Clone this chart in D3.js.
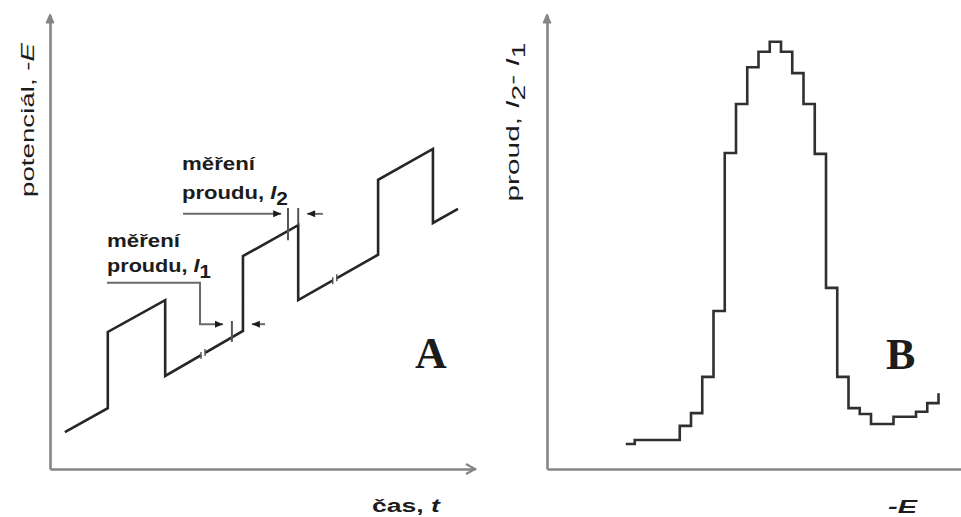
<!DOCTYPE html>
<html>
<head>
<meta charset="utf-8">
<script src="https://cdn.jsdelivr.net/npm/d3@7"></script>
<style>
body{margin:0;background:#fff;}
svg{display:block;background:#fff;}
text{font-family:"Liberation Sans",Arial,sans-serif;fill:#1c1c1c;}
</style>
</head>
<body>
<svg id="chart" width="961" height="517"></svg>
<script>
// ---- panel A : potential waveform vs time
var timeA = [3.5, 13.6, 13.6, 27.1, 27.1, 45.4, 45.4, 58.4, 58.4, 77.2, 77.2, 90.1, 90.1, 96.0];
var potA  = [8.1, 13.4, 30.2, 37.2, 20.5, 30.4, 46.9, 53.7, 37.2, 47.2, 63.7, 70.5, 54.2, 57.3];

// current sampling marks (time, low, high)
var markT  = [42.8, 56.0, 58.4];
var markLo = [28.0, 50.4, 53.7];
var markHi = [32.6, 57.5, 57.5];
// little break marks on the base line
var breakT = [36.0, 67.0];

// ---- panel B : differential current vs potential (staircase)
var potB = [0.2, 1, 2, 3, 4, 5, 6, 7, 8, 9, 10, 11, 12, 13, 14, 15, 16, 17, 18, 19, 20, 21, 22, 23, 24, 25, 26, 27, 28];
var curB = [5.5, 6.4, 6.4, 6.4, 6.4, 9.5, 12.3, 20.3, 34.8, 69.6, 80.4, 88.5, 91.9, 94.1, 91.9, 87.2, 80.4, 69.4,
            39.9, 20.3, 13.4, 12.1, 9.9, 9.9, 11.5, 11.5, 12.6, 14.5, 16.7];

var svg = d3.select('#chart');
var axisColor = '#858585', lineColor = '#262626';

var xA = d3.scaleLinear().domain([0, 100]).range([50, 475]);
var yA = d3.scaleLinear().domain([0, 100]).range([469, 15]);
var xB = d3.scaleLinear().domain([-6.8, 30]).range([547, 961]);
var yB = d3.scaleLinear().domain([0, 100]).range([469, 15]);

function drawAxes(x, y, arrowRight){
	var gy = svg.append('g').attr('transform', 'translate(' + x.range()[0] + ',0)')
		.call(d3.axisLeft(y).tickValues([]).tickSizeOuter(0));
	var gx = svg.append('g').attr('transform', 'translate(0,' + y.range()[0] + ')')
		.call(d3.axisBottom(x).tickValues([]).tickSizeOuter(0));
	svg.selectAll('.domain').attr('stroke', axisColor).attr('stroke-width', 2.6);
	var x0 = x.range()[0], yt = y.range()[1];
	svg.append('path')
		.attr('d', 'M' + (x0 - 4) + ',' + (yt + 8) + 'L' + x0 + ',' + (yt - 1) + 'L' + (x0 + 4) + ',' + (yt + 8) + 'Z')
		.attr('fill', axisColor).attr('stroke', axisColor).attr('stroke-width', 1);
	if(arrowRight){
		var xr = x.range()[1], yb = y.range()[0];
		svg.append('path')
			.attr('d', 'M' + (xr - 9) + ',' + (yb - 5) + 'L' + xr + ',' + yb + 'L' + (xr - 9) + ',' + (yb + 5))
			.attr('fill', 'none').attr('stroke', axisColor).attr('stroke-width', 2.2);
	}
}
drawAxes(xA, yA, true);
drawAxes(xB, yB, false);

// ---- waveform A
var dataA = timeA.map(function(t, i){ return {t: t, e: potA[i]}; });
var lineA = d3.line().x(function(d){ return xA(d.t); }).y(function(d){ return yA(d.e); });
svg.append('path').datum(dataA)
	.attr('d', lineA)
	.attr('fill', 'none').attr('stroke', lineColor).attr('stroke-width', 2.6)
	.attr('stroke-linejoin', 'miter');

function potAt(t){
	for(var i = 0; i < timeA.length - 1; i++){
		if(timeA[i] < timeA[i + 1] && t >= timeA[i] && t <= timeA[i + 1]){
			return potA[i] + (potA[i + 1] - potA[i]) * (t - timeA[i]) / (timeA[i + 1] - timeA[i]);
		}
	}
	return 0;
}
breakT.forEach(function(t){
	var px = xA(t), py = yA(potAt(t));
	svg.append('line').attr('x1', px - 2).attr('x2', px + 2).attr('y1', py + 1).attr('y2', py - 1)
		.attr('stroke', '#fff').attr('stroke-width', 4);
	svg.append('line').attr('x1', px - 2).attr('x2', px - 2).attr('y1', py - 2).attr('y2', py + 5)
		.attr('stroke', '#555').attr('stroke-width', 1.4);
	svg.append('line').attr('x1', px + 2).attr('x2', px + 2).attr('y1', py - 5).attr('y2', py + 2)
		.attr('stroke', '#555').attr('stroke-width', 1.4);
});

markT.forEach(function(t, i){
	svg.append('line')
		.attr('x1', xA(t)).attr('x2', xA(t))
		.attr('y1', yA(markLo[i])).attr('y2', yA(markHi[i]))
		.attr('stroke', '#555').attr('stroke-width', 2);
});

// annotation arrows (in data units of panel A)
var arrows = [
	{pts: [[13.4, 41.0], [35.3, 41.0], [35.3, 31.9], [40.7, 31.9]], dir: 1},
	{pts: [[50.6, 31.9], [47.5, 31.9]], dir: -1},
	{pts: [[31.3, 56.2], [54.4, 56.2]], dir: 1},
	{pts: [[64.2, 56.2], [60.5, 56.2]], dir: -1}
];
arrows.forEach(function(a){
	var p = a.pts.map(function(q){ return [xA(q[0]), yA(q[1])]; });
	svg.append('path').attr('d', d3.line()(p))
		.attr('fill', 'none').attr('stroke', '#6a6a6a').attr('stroke-width', 2);
	var e = p[p.length - 1];
	svg.append('path')
		.attr('d', 'M' + e[0] + ',' + e[1] + 'L' + (e[0] - a.dir * 8) + ',' + (e[1] - 3.5) + 'L' + (e[0] - a.dir * 8) + ',' + (e[1] + 3.5) + 'Z')
		.attr('fill', '#1c1c1c');
});

// ---- staircase B
var dataB = potB.map(function(p, i){ return {p: p, c: curB[i]}; });
var lineB = d3.line().curve(d3.curveStepAfter)
	.x(function(d){ return xB(d.p); }).y(function(d){ return yB(d.c); });
svg.append('path').datum(dataB)
	.attr('d', lineB)
	.attr('fill', 'none').attr('stroke', '#303030').attr('stroke-width', 2.6);

// ---- text
function label(x, y, parts, opt){
	opt = opt || {};
	var g = svg.append('g').attr('transform', 'translate(' + x + ',' + y + ')' + (opt.rotate ? ' rotate(-90)' : ''));
	var t = g.append('text')
		.attr('text-anchor', opt.anchor || 'start')
		.attr('font-size', opt.size || 19)
		.attr('font-weight', opt.weight || 'normal');
	parts.forEach(function(p){
		var s = t.append('tspan').text(p.s);
		if(p.it) s.attr('font-style', 'italic');
		if(p.dy) s.attr('dy', p.dy);
		if(p.size) s.attr('font-size', p.size);
	});
	if(opt.width){
		var w = t.node().getComputedTextLength();
		t.attr('transform', 'scale(' + (opt.width / w) + ',1)');
	}
	return t;
}

label(182, 170, [{s: 'měření'}], {weight: 'bold', width: 73});
label(182, 199, [{s: 'proudu, '}, {s: 'I', it: true}, {s: '2', dy: 6, size: 18}], {weight: 'bold', width: 106});
label(107, 247, [{s: 'měření'}], {weight: 'bold', width: 73});
label(107, 272, [{s: 'proudu, '}, {s: 'I', it: true}, {s: '1', dy: 6, size: 18}], {weight: 'bold', width: 104});

label(34, 120, [{s: 'potenciál, -'}, {s: 'E', it: true}], {rotate: true, anchor: 'middle', size: 19, width: 154});
label(519, 122, [{s: 'proud, '}, {s: 'I', it: true}, {s: '2', dy: 6, size: 18}, {s: '- ', dy: -6}, {s: 'I', it: true}, {s: '1', dy: 6, size: 18}],
	{rotate: true, anchor: 'middle', size: 19, width: 159});

label(372, 512, [{s: 'čas, '}, {s: 't', it: true}], {weight: 'bold', width: 68});
label(888, 513, [{s: '-E', it: true}], {weight: 'bold', width: 29, size: 18});

svg.append('text').attr('x', 415).attr('y', 368)
	.style('font-family', '"Liberation Serif","Times New Roman",serif')
	.attr('font-size', 44).attr('font-weight', 'bold').text('A');
svg.append('text').attr('x', 886).attr('y', 369)
	.style('font-family', '"Liberation Serif","Times New Roman",serif')
	.attr('font-size', 44).attr('font-weight', 'bold').text('B');
</script>
</body>
</html>
